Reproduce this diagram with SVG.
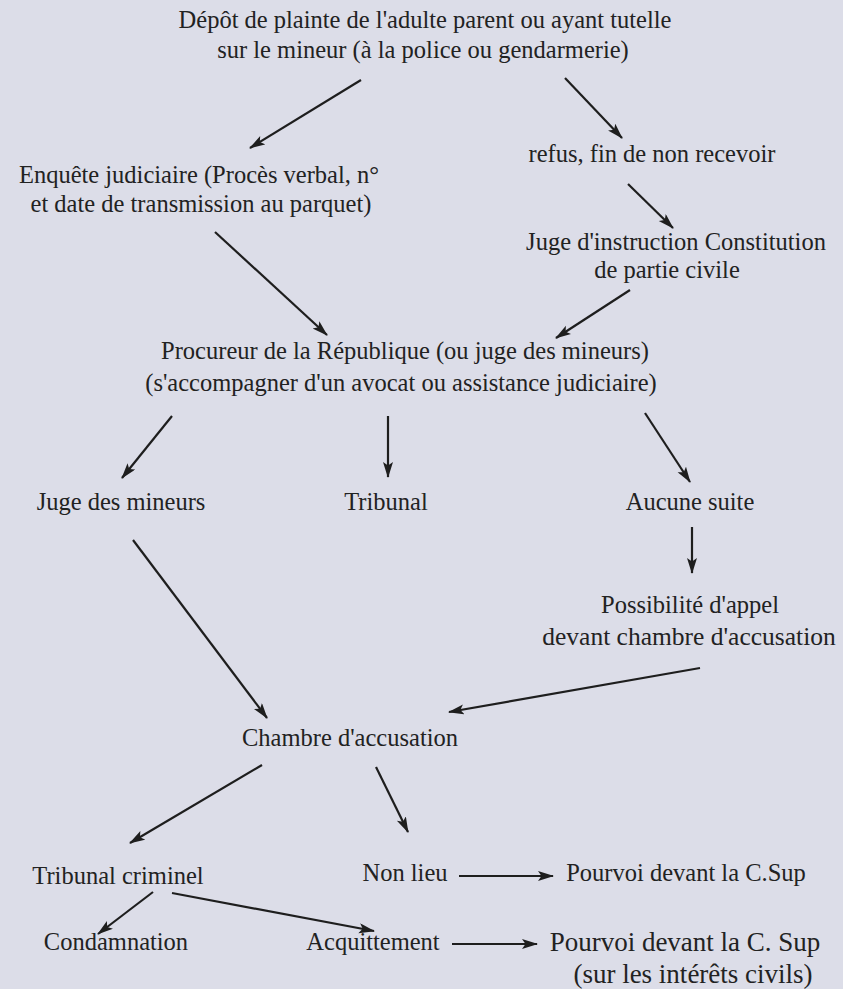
<svg xmlns="http://www.w3.org/2000/svg" width="843" height="989" viewBox="0 0 843 989">
<style>
text{font-family:'Liberation Serif','Times New Roman','DejaVu Serif',serif;font-size:24.5px;fill:#222;text-anchor:middle}
.big{font-size:27px}
.c line{stroke:#1e1e1e;stroke-width:2.2;marker-end:url(#ah)}
</style>
<defs>
<marker id="ah" markerUnits="userSpaceOnUse" markerWidth="18" markerHeight="12" refX="15" refY="5" orient="auto">
<path d="M0,0 L16,5 L0,10 L3.5,5 z" fill="#1e1e1e"/>
</marker>
</defs>
<rect width="843" height="989" fill="#dcdde8"/>
<g id="n-depot"><text x="425" y="28">Dépôt de plainte de l'adulte parent ou ayant tutelle</text><text x="423" y="58">sur le mineur (à la police ou gendarmerie)</text></g>
<g id="n-refus"><text x="652" y="162">refus, fin de non recevoir</text></g>
<g id="n-enquete"><text x="199" y="183">Enquête judiciaire (Procès verbal, n°</text><text x="201" y="212">et date de transmission au parquet)</text></g>
<g id="n-juge-instr"><text x="676" y="250">Juge d'instruction Constitution</text><text x="667" y="278">de partie civile</text></g>
<g id="n-procureur"><text x="405" y="359">Procureur de la République (ou juge des mineurs)</text><text x="401" y="391">(s'accompagner d'un avocat ou assistance judiciaire)</text></g>
<g id="n-juge-mineurs"><text x="121" y="510">Juge des mineurs</text></g>
<g id="n-tribunal"><text x="386" y="510">Tribunal</text></g>
<g id="n-aucune"><text x="690" y="510">Aucune suite</text></g>
<g id="n-appel"><text x="690" y="613">Possibilité d'appel</text><text x="689" y="645" style="font-size:25.5px">devant chambre d'accusation</text></g>
<g id="n-chambre"><text x="350" y="746">Chambre d'accusation</text></g>
<g id="n-trib-crim"><text x="118" y="884">Tribunal criminel</text></g>
<g id="n-nonlieu"><text x="405" y="881">Non lieu</text></g>
<g id="n-pourvoi1"><text x="686" y="881">Pourvoi devant la C.Sup</text></g>
<g id="n-condamnation"><text x="116" y="950">Condamnation</text></g>
<g id="n-acquittement"><text x="373" y="950">Acquittement</text></g>
<g id="n-pourvoi2"><text class="big" x="685" y="951">Pourvoi devant la C. Sup</text><text class="big" x="693" y="983">(sur les intérêts civils)</text></g>
<g id="connectors" class="c">
<line x1="361" y1="80" x2="250" y2="148"/>
<line x1="565" y1="78" x2="622" y2="138"/>
<line x1="628" y1="184" x2="673" y2="228"/>
<line x1="215" y1="232" x2="327" y2="335"/>
<line x1="630" y1="290" x2="556" y2="338"/>
<line x1="172" y1="416" x2="122" y2="478"/>
<line x1="388" y1="416" x2="388" y2="477"/>
<line x1="645" y1="413" x2="690" y2="482"/>
<line x1="692" y1="527" x2="692" y2="573"/>
<line x1="133" y1="540" x2="267" y2="718"/>
<line x1="700" y1="668" x2="449" y2="712"/>
<line x1="262" y1="765" x2="130" y2="843"/>
<line x1="376" y1="767" x2="408" y2="832"/>
<line x1="459" y1="876" x2="553" y2="876"/>
<line x1="153" y1="892" x2="98" y2="934"/>
<line x1="172" y1="893" x2="374" y2="931"/>
<line x1="452" y1="944" x2="537" y2="944"/>
</g>
</svg>
